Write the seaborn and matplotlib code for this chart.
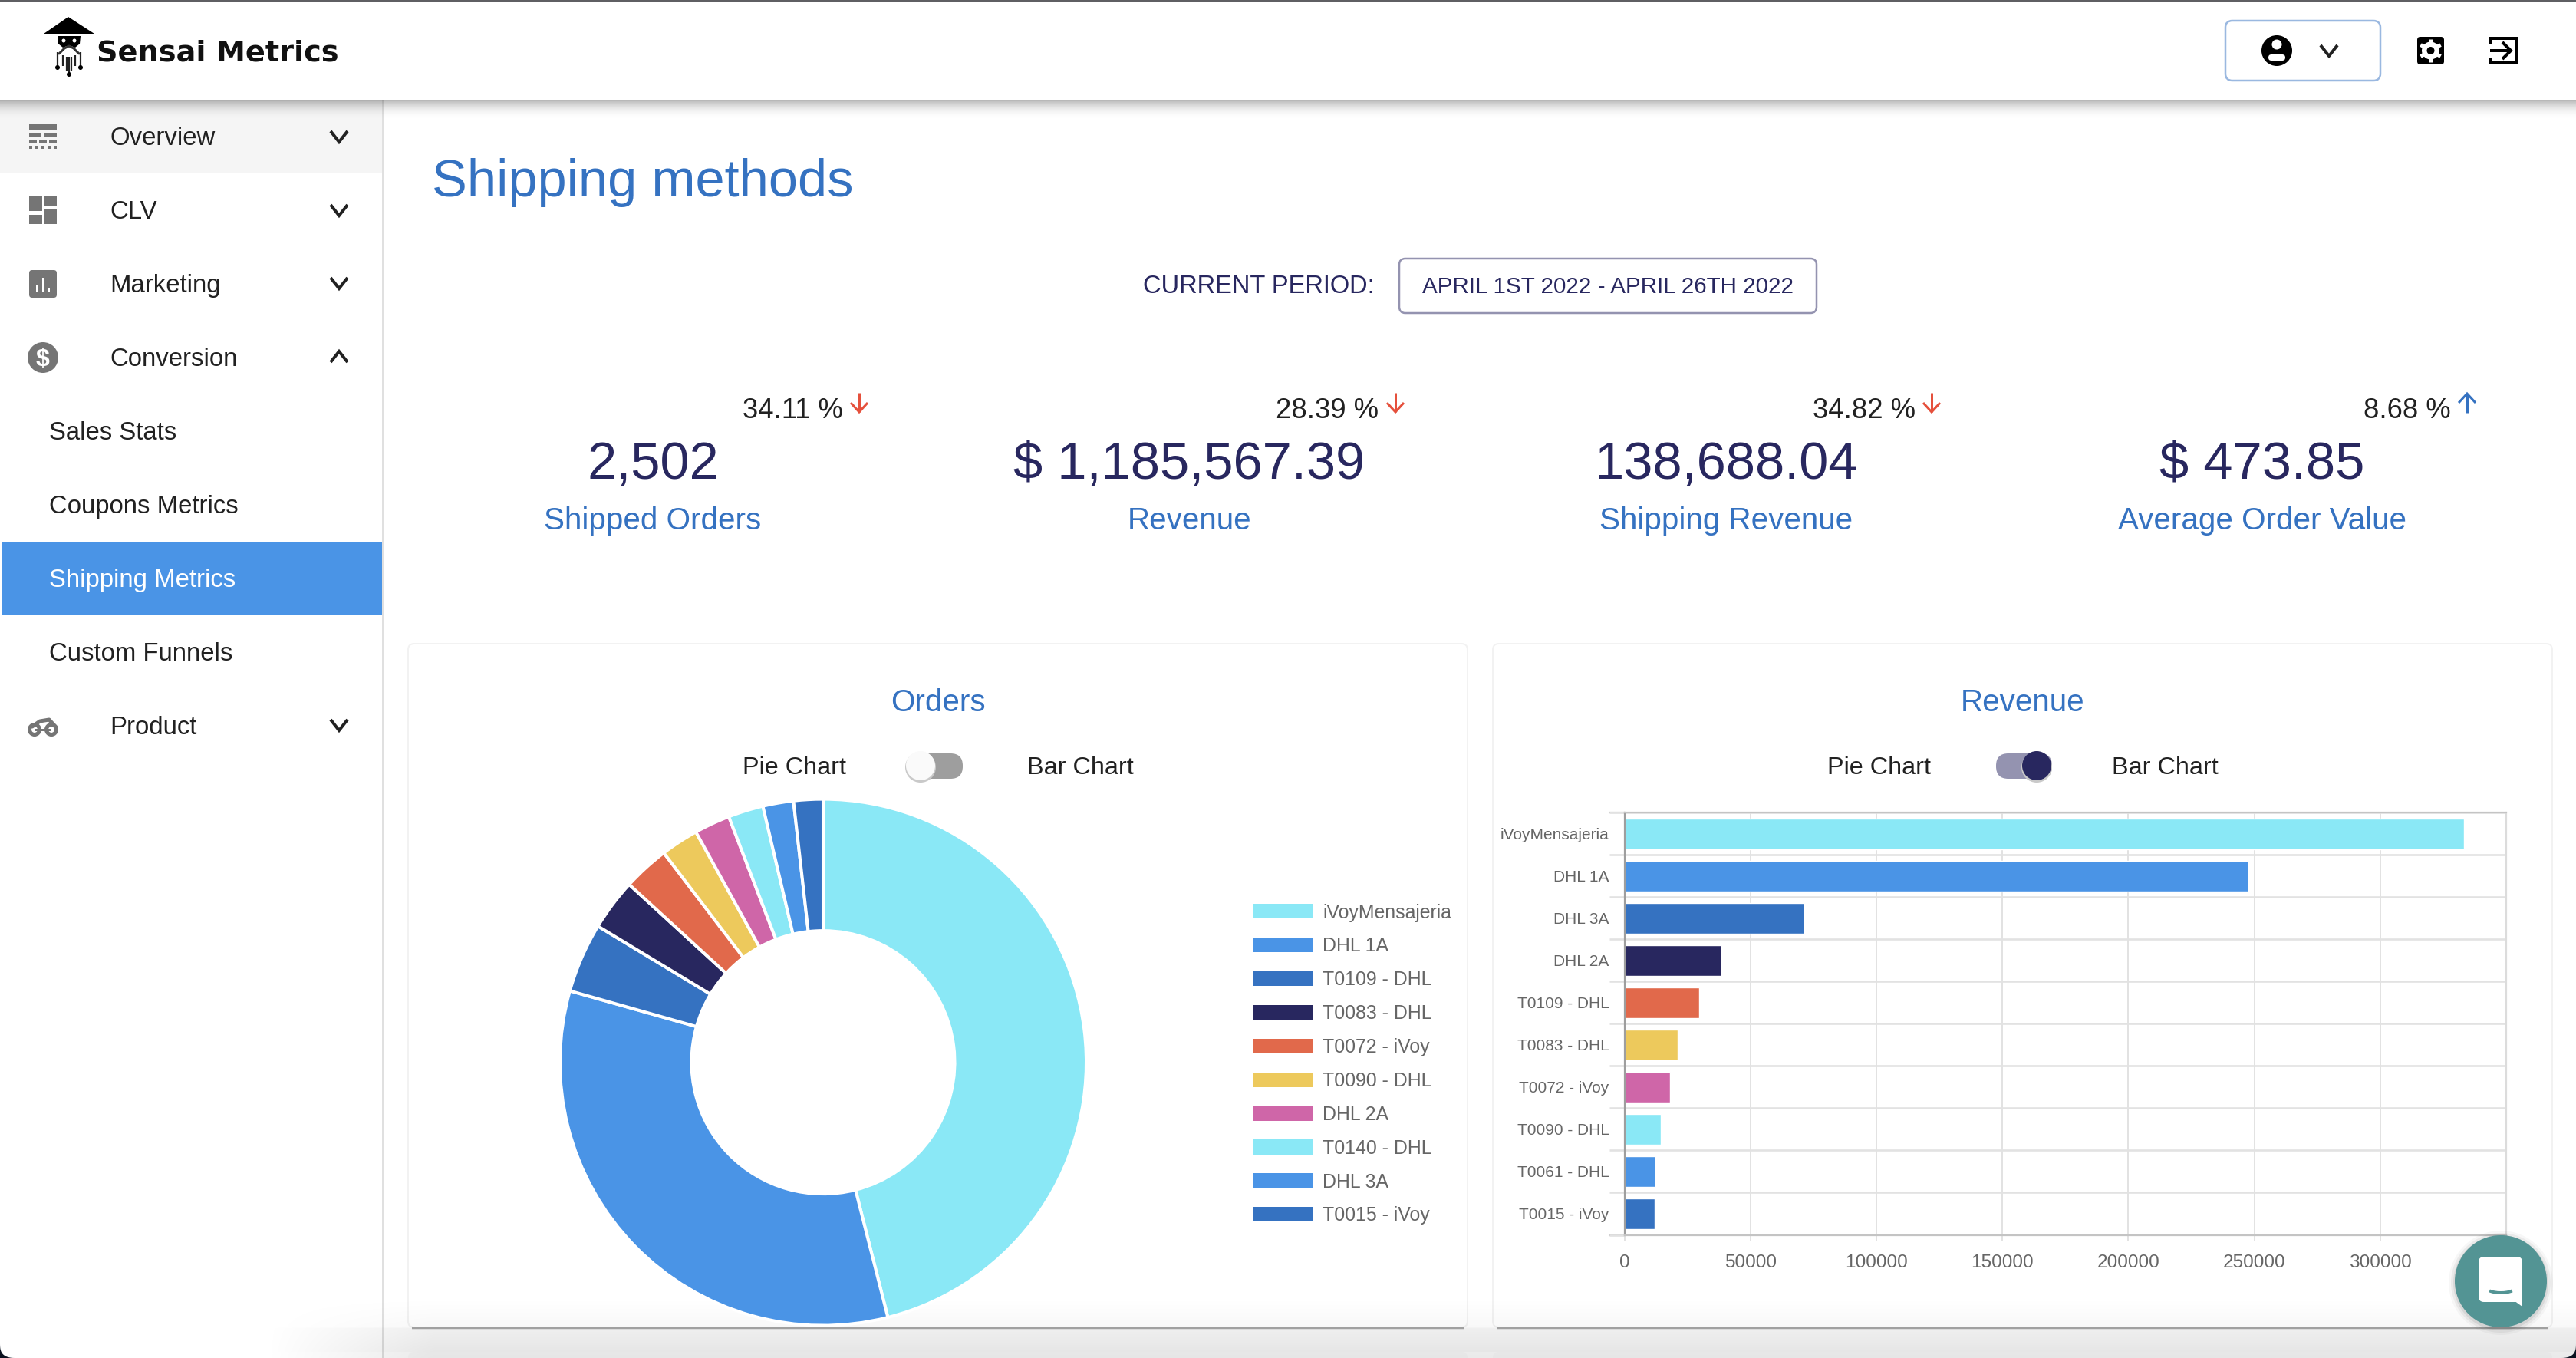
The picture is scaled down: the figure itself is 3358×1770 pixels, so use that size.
import numpy as np
import pandas as pd
import matplotlib
matplotlib.use('Agg')
import matplotlib.pyplot as plt
from matplotlib.patches import Rectangle, FancyBboxPatch, Circle, Polygon, Patch, Arc
import seaborn as sns

W, H = 3358, 1770

# pie chart data (orders)
order_names = ['iVoyMensajeria', 'DHL 1A', 'T0109 - DHL', 'T0083 - DHL', 'T0072 - iVoy',
               'T0090 - DHL', 'DHL 2A', 'T0140 - DHL', 'DHL 3A', 'T0015 - iVoy']
order_values = [1152, 834, 107, 79, 71, 58, 55, 54, 47, 45]

# bar chart data (revenue)
revenue_names = ['iVoyMensajeria', 'DHL 1A', 'DHL 3A', 'DHL 2A', 'T0109 - DHL',
                 'T0083 - DHL', 'T0072 - iVoy', 'T0090 - DHL', 'T0061 - DHL', 'T0015 - iVoy']
revenue_values = [333100, 247600, 71300, 38500, 29700, 21200, 18100, 14400, 12200, 11900]
revenue_ticks = [0, 50000, 100000, 150000, 200000, 250000, 300000]

# kpi row
kpi_values = ['2,502', '$ 1,185,567.39', '138,688.04', '$ 473.85']
kpi_labels = ['Shipped Orders', 'Revenue', 'Shipping Revenue', 'Average Order Value']
kpi_changes = ['34.11 %', '28.39 %', '34.82 %', '8.68 %']
kpi_up = [False, False, False, True]

menu_main = ['Overview', 'CLV', 'Marketing', 'Conversion', 'Product']
menu_sub = ['Sales Stats', 'Coupons Metrics', 'Shipping Metrics', 'Custom Funnels']

palette = ['#8AE8F6', '#4A94E6', '#3572C1', '#28275F', '#E1694B', '#EDC95C', '#CF66A8',
           '#8AE8F6', '#4A94E6', '#3572C1']
NAVY = '#28275F'
BLUE = '#3572C1'
GREY = '#757575'
TEAL = '#539494'

sns.set_theme(style='white')
plt.rcParams['font.family'] = ['Liberation Sans', 'DejaVu Sans']

fig = plt.figure(figsize=(W / 100, H / 100), dpi=100, facecolor='white')


def ax_px(l, t, r, b, **kw):
    return fig.add_axes([l / W, 1 - b / H, (r - l) / W, (b - t) / H], **kw)


def pt(px):
    return px * 0.72


# ui layer in pixel coords
ui = fig.add_axes([0, 0, 1, 1], zorder=0)
ui.set_xlim(0, W)
ui.set_ylim(H, 0)
ui.axis('off')


def rect(l, t, r, b, color, z=1, target=None):
    (target or ui).add_patch(Rectangle((l, t), r - l, b - t, facecolor=color, edgecolor='none', zorder=z))


def rbox(l, t, r, b, rad, fc='none', ec='none', lw=0, z=2, target=None):
    (target or ui).add_patch(FancyBboxPatch((l, t), r - l, b - t, boxstyle='round,pad=0,rounding_size=%s' % rad,
                                             facecolor=fc, edgecolor=ec, linewidth=pt(lw), zorder=z))


def line(xs, ys, color='black', lw=4, z=3, cap='round', target=None):
    (target or ui).plot(xs, ys, color=color, lw=pt(lw), zorder=z, solid_capstyle=cap, solid_joinstyle='miter')


def circ(x, y, r, color, z=3, target=None):
    (target or ui).add_patch(Circle((x, y), r, facecolor=color, edgecolor='none', zorder=z))


def txt(x, y, s, size, color='#212121', ha='left', z=4, **kw):
    ui.text(x, y, s, fontsize=size, color=color, ha=ha, va='baseline', zorder=z, **kw)


def chevron(x, y, up=False, half=11, rise=7, lw=4):
    s = -1 if up else 1
    line([x - half, x, x + half], [y - s * rise, y + s * rise, y - s * rise], color='#212121', lw=lw, cap='butt')


def shade(l, t, r, b, alpha):
    img = np.zeros(alpha.shape + (4,))
    img[..., 3] = alpha
    ui.imshow(img, extent=[l, r, b, t], aspect='auto', interpolation='bilinear', zorder=6)
    ui.set_xlim(0, W)
    ui.set_ylim(H, 0)


# header
rect(0, 0, W, 2.5, '#5f5f63', z=7)
rect(500, 130, W, H, 'white', z=0)
rect(0, 130, 498, 226, '#f5f5f5')
rect(2, 706, 498, 802, '#4A94E6')
line([499, 499], [130, H], color='#e0e0e0', lw=2, cap='butt')
yy = np.linspace(0, 1, 24)[:, None]
shade(0, 130, W, 158, 0.28 * (1 - yy) ** 2.2)

# logo
ui.add_patch(Polygon([(57, 44), (89, 22), (123, 44)], facecolor='black', edgecolor='none', zorder=3))
ui.add_patch(Polygon([(75, 47), (105, 47), (104, 57), (98, 62), (90, 59), (82, 62), (76, 57)],
                     facecolor='black', edgecolor='none', zorder=3))
circ(83, 53, 2.5, 'white', z=4)
circ(97, 53, 2.5, 'white', z=4)
ui.plot([77, 84, 90, 96, 103], [70, 63, 60, 63, 70], color='#333333', lw=pt(3), zorder=3)
for dx, top_y, bot in [(-15, 68, 88), (-8, 72, 86), (-3, 74, 92), (3, 74, 92), (8, 72, 86), (15, 68, 88)]:
    line([90 + dx, 90 + dx], [top_y, bot], color='#222222', lw=2.2, cap='butt')
line([90, 90], [74, 97], color='#222222', lw=2.2, cap='butt')
circ(75, 88, 3, 'black')
circ(105, 88, 3, 'black')
circ(90, 97, 3, 'black')
txt(126, 80, 'Sensai Metrics', 27.5, color='#111111', family=['DejaVu Sans'], fontweight='bold')

# header right controls
rbox(2901, 27, 3103, 105, 9, ec='#9ab8e0', lw=2.5)
circ(2968, 66, 20, 'black')
circ(2968, 58, 6.5, 'white', z=4)
ui.add_patch(FancyBboxPatch((2957, 71), 22, 8, boxstyle='round,pad=0,rounding_size=4', facecolor='white',
                            edgecolor='none', zorder=4))
chevron(3036, 66, half=11, rise=7, lw=4)
rbox(3151, 48, 3186, 84, 4, fc='black')
circ(3168.5, 66, 11.5, 'white', z=4)
for ang in np.deg2rad([30, 90, 150, 210, 270, 330]):
    line([3168.5, 3168.5 + 15 * np.cos(ang)], [66, 66 + 15 * np.sin(ang)], color='white', lw=5, cap='butt', z=4)
circ(3168.5, 66, 5, 'black', z=5)
line([3247, 3247, 3281, 3281, 3247, 3247], [57, 50, 50, 82, 82, 75], lw=4, cap='butt')
line([3246, 3272], [66, 66], lw=4, cap='butt')
line([3262, 3273, 3262], [55, 66, 77], lw=4, cap='butt')

# sidebar text
main_base = [189, 285, 381, 477, 957]
main_chev = [178, 274, 369, 465, 945]
for name, base, ch in zip(menu_main, main_base, main_chev):
    txt(143.5, base, name, 23.7)
    chevron(442, ch, up=name == 'Conversion')
sub_base = [573, 669, 765, 861]
for name, base in zip(menu_sub, sub_base):
    txt(64, base, name, 23.7, color='white' if name == 'Shipping Metrics' else '#212121')

# sidebar icons
rect(38, 162, 74, 170, GREY, z=3)
rect(38, 174, 54, 178, GREY, z=3)
rect(58, 174, 74, 178, GREY, z=3)
for a in [38, 51, 64]:
    rect(a, 182, a + 10, 186, GREY, z=3)
for a in [38, 46, 54, 62, 70]:
    rect(a, 190, a + 4, 194, GREY, z=3)
rect(38, 256, 55, 275, GREY, z=3)
rect(58, 256, 74, 268, GREY, z=3)
rect(38, 280, 55, 292, GREY, z=3)
rect(58, 272, 74, 292, GREY, z=3)
rbox(38, 352, 74, 388, 4, fc=GREY, z=3)
rect(47, 371, 50, 380, 'white', z=4)
rect(54.5, 362, 57.5, 380, 'white', z=4)
rect(62, 375, 65, 380, 'white', z=4)
circ(56, 466, 20, GREY)
txt(56, 477, '$', 23, color='white', ha='center', fontweight='bold')
for cx in [45, 67]:
    ui.add_patch(Circle((cx, 951), 6.5, facecolor='none', edgecolor=GREY, linewidth=pt(5), zorder=3))
line([45, 56, 66], [951, 951, 951], color=GREY, lw=3, cap='butt')
ui.plot([42, 52, 64, 73], [947, 940, 938, 948], color=GREY, lw=pt(5), zorder=3)

# page title and period
txt(563, 256, 'Shipping methods', 49.4, color=BLUE)
txt(1490, 382.5, 'CURRENT PERIOD:', 23.5, color=NAVY)
rbox(1824, 337, 2368, 408, 8, ec='#9493b0', lw=2.5)
txt(2096, 382, 'APRIL 1ST 2022 - APRIL 26TH 2022', 21.3, color=NAVY, ha='center')

# kpi row
kpi_x = [851, 1550.5, 2250, 2949]
pct_right = [1099, 1797, 2497, 3195]
arrow_x = [1120, 1819, 2518, 3216]
for i in range(4):
    txt(kpi_x[i], 624, kpi_values[i], 49.4, color=NAVY, ha='center')
    txt(kpi_x[i], 690, kpi_labels[i], 29.1, color=BLUE, ha='center')
    txt(pct_right[i], 545, kpi_changes[i], 26.2, ha='right')
    ax_ = arrow_x[i]
    if kpi_up[i]:
        line([ax_, ax_], [513, 538], color=BLUE, lw=3, cap='butt')
        line([ax_ - 11, ax_, ax_ + 11], [525, 513, 525], color=BLUE, lw=3, cap='butt')
    else:
        line([ax_, ax_], [512, 537], color='#E5503C', lw=3, cap='butt')
        line([ax_ - 11, ax_, ax_ + 11], [525, 537, 525], color='#E5503C', lw=3, cap='butt')

# cards
for l, r in [(532, 1913), (1946, 3327)]:
    rbox(l, 839, r, 1730, 8, fc='white', ec='#f2f2f2', lw=2, z=1)
    line([l + 5, r - 5], [1731, 1731], color='#a0a0a0', lw=2.5, cap='butt', z=7)
    rbox(l, 1762, r, 1800, 8, fc='#fbfbfb', z=1)

txt(1223, 927, 'Orders', 29.1, color=BLUE, ha='center')
txt(2637, 927, 'Revenue', 29.1, color=BLUE, ha='center')
for l, r in [(968, 1339), (2381.5, 2753)]:
    txt(l, 1009, 'Pie Chart', 23.3)
    txt(r, 1009, 'Bar Chart', 23.3)

# toggles
rbox(1183, 982, 1255, 1015, 16, fc='#9e9e9e', z=2)
circ(1200, 1000, 20, '#c9c9c9', z=3)
circ(1200, 998, 19, '#fafafa', z=4)
rbox(2602, 982, 2675, 1015, 16, fc='#9493b0', z=2)
circ(2655, 1000, 20, '#c9c9c9', z=3)
circ(2655, 998, 19, NAVY, z=4)

# bottom glow
gy = np.linspace(1690, H, 81)
gx = np.linspace(340, W, 300)
ay = np.interp(gy, [1690, 1730, 1731, 1762, 1763, 1770], [0, 0.03, 0.065, 0.10, 0.08, 0.085])
axf = np.interp(gx, [340, 560], [0, 1])
shade(340, 1690, W, H, ay[:, None] * axf[None, :])

# pie chart
pie_ax = ax_px(1073 - 343, 1384.6 - 343, 1073 + 343, 1384.6 + 343, zorder=2)
pie_ax.patch.set_alpha(0)
wedges, _ = pie_ax.pie(order_values, colors=palette, startangle=90, counterclock=False, radius=1.0,
                       wedgeprops=dict(width=0.5, edgecolor='white', linewidth=2.9))
pie_ax.set_xlim(-1, 1)
pie_ax.set_ylim(-1, 1)
pie_ax.set_aspect('equal')
for w_ in wedges:
    w_.set_clip_on(False)
pie_ax.legend(handles=[Patch(facecolor=c, edgecolor='none', label=n) for c, n in zip(palette, order_names)],
              loc='center left', bbox_to_anchor=(1634 / W, 1 - 1387 / H), bbox_transform=fig.transFigure,
              frameon=False, fontsize=17.9, labelcolor='#666666', handlelength=3.1, handleheight=0.81,
              labelspacing=0.80, handletextpad=0.53, borderpad=0, borderaxespad=0)

# bar chart
revenue = pd.DataFrame({'name': revenue_names, 'value': revenue_values})
bar_ax = ax_px(2117.6, 1059.4, 3267, 1609.5, zorder=2)
bar_ax.patch.set_alpha(0)
sns.barplot(data=revenue, x='value', y='name', hue='name', palette=palette, dodge=False, legend=False,
            width=0.72, saturation=1, ax=bar_ax)
bar_ax.set_xlim(0, 350000)
bar_ax.set_ylim(9.5, -0.5)
bar_ax.set_xlabel('')
bar_ax.set_ylabel('')
bar_ax.set_xticks(revenue_ticks)
bar_ax.set_yticks(np.arange(-0.5, 10), minor=True)
bar_ax.set_axisbelow(True)
bar_ax.grid(True, axis='x', color='#dcdcdc', lw=pt(1.6))
bar_ax.grid(True, axis='y', which='minor', color='#e2e2e2', lw=pt(2.6))
bar_ax.grid(False, axis='y', which='major')
bar_ax.tick_params(axis='x', labelsize=17.6, labelcolor='#666666', length=pt(7), width=pt(1.6), color='#dcdcdc',
                   pad=pt(18), bottom=True)
bar_ax.tick_params(axis='y', which='major', labelsize=15, labelcolor='#666666', length=0, pad=pt(20))
bar_ax.tick_params(axis='y', which='minor', length=pt(20), width=pt(2.6), color='#e2e2e2', left=True)
for side, col in [('top', '#c4c4c4'), ('bottom', '#c4c4c4'), ('left', '#9e9e9e'), ('right', '#dcdcdc')]:
    bar_ax.spines[side].set_visible(True)
    bar_ax.spines[side].set_color(col)
    bar_ax.spines[side].set_linewidth(pt(2.2))
ui.plot([2098, 2118], [1059.4, 1059.4], color='#c4c4c4', lw=pt(2.2), zorder=3)
ui.plot([2098, 2118], [1609.5, 1609.5], color='#c4c4c4', lw=pt(2.2), zorder=3)

# overlay: chat bubble and window corners
top = fig.add_axes([0, 0, 1, 1], zorder=5)
top.set_xlim(0, W)
top.set_ylim(H, 0)
top.axis('off')
top.patch.set_alpha(0)
for r_, a_ in [(68, 0.03), (65, 0.05), (62, 0.07)]:
    top.add_patch(Circle((3260, 1672), r_, facecolor='black', alpha=a_, edgecolor='none'))
circ(3260, 1670, 60, TEAL, z=3, target=top)
rbox(3231, 1638, 3288, 1697, 7, fc='white', z=4, target=top)
top.add_patch(Polygon([(3270, 1690), (3288, 1690), (3288, 1703)], facecolor='white', edgecolor='none', zorder=4))
top.add_patch(Arc((3260, 1677), 40, 16, theta1=20, theta2=160, color=TEAL, lw=pt(4), zorder=5))

arc_t = np.linspace(0, np.pi / 2, 20)
curve = [(0, H - 20)] + [(19 * (1 - np.cos(t)) ** 1.5, H - 20 + 20 * np.sin(t)) for t in arc_t]
top.add_patch(Polygon([(0, H)] + curve, facecolor='#0b1220', edgecolor='none'))
top.add_patch(Polygon([(W, H)] + [(W - x, y) for x, y in curve], facecolor='#0b1220', edgecolor='none'))

fig.savefig('out.png', dpi=100, facecolor='white')
